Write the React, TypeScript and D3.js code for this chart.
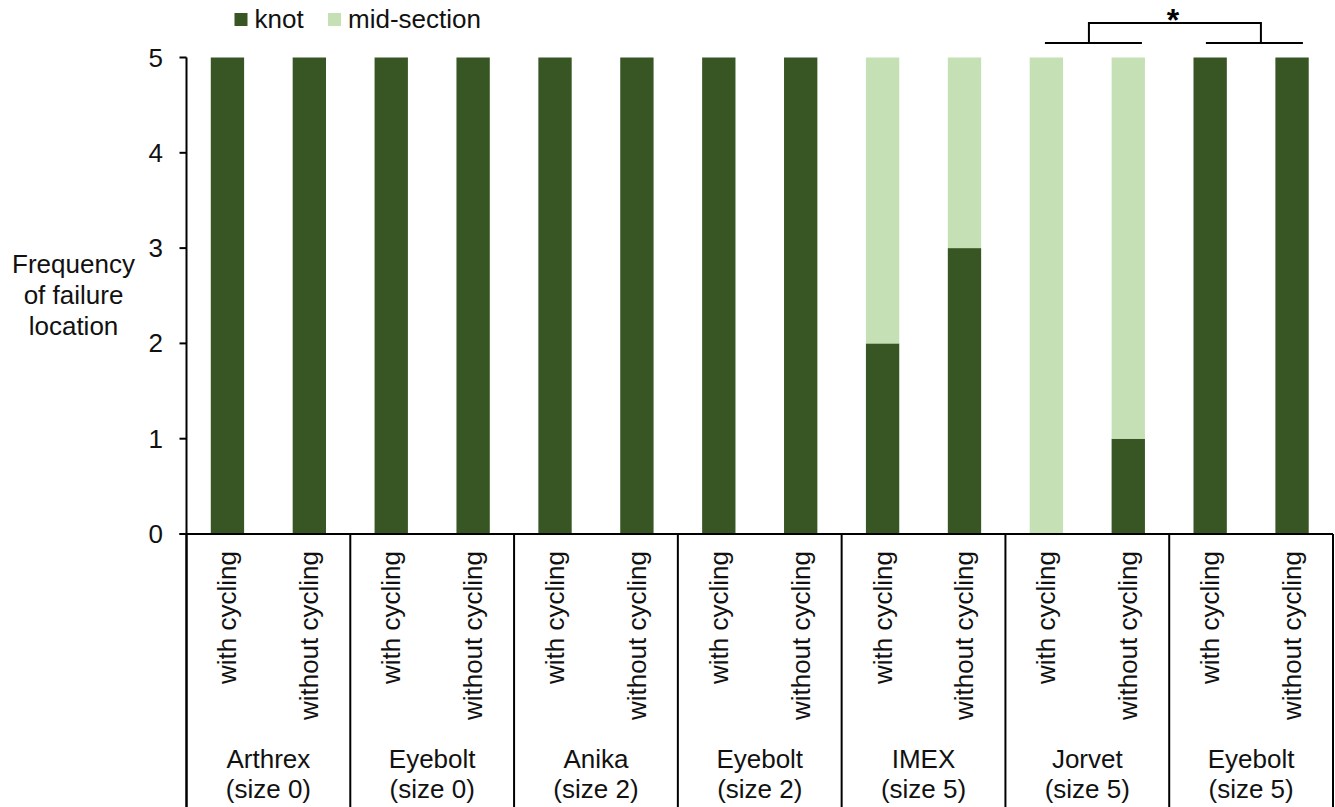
import React from "react";
import * as d3 from "d3";

const groupNames = ["Arthrex", "Eyebolt", "Anika", "Eyebolt", "IMEX", "Jorvet", "Eyebolt"];
const groupSizes = ["(size 0)", "(size 0)", "(size 2)", "(size 2)", "(size 5)", "(size 5)", "(size 5)"];
const conditions = ["with cycling", "without cycling"];
const knot = [5, 5, 5, 5, 5, 5, 5, 5, 2, 3, 0, 1, 5, 5];
const midSection = [0, 0, 0, 0, 0, 0, 0, 0, 3, 2, 5, 4, 0, 0];
const seriesNames = ["knot", "mid-section"];
const seriesColors = ["#375623", "#C5E0B4"];
const yTicks = [0, 1, 2, 3, 4, 5];
const yTitle = ["Frequency", "of failure", "location"];

const W = 1335;
const H = 807;
const FONT = "'Liberation Sans', Arial, Helvetica, sans-serif";
const FS = 26;
const TXT = "#111";

export default function App() {
  const left = 186.5;
  const right = 1333;
  const y0 = 534;
  const y5 = 57.5;

  const barIds = knot.map((_, i) => String(i));
  const x = d3.scaleBand<string>().domain(barIds).range([left, right]).padding(0);
  const step = x.step();
  const barW = step * 0.407;
  const y = d3.scaleLinear().domain([0, 5]).range([y0, y5]);

  const rows = knot.map((k, i) => ({ id: String(i), knot: k, mid: midSection[i] }));
  const stack = d3.stack<any>().keys(["knot", "mid"]);
  const layers = stack(rows);

  const groupStart = (g: number) => x(String(g * 2)) as number;
  const groupCenter = (g: number) => groupStart(g) + step;

  // significance bracket between group 5 and 6
  const gL = groupCenter(5);
  const gR = groupCenter(6);
  const vL = gL + 1.6;
  const vR = gR + 9.8;
  const yTop = 23;
  const yLow = 43;

  return (
    <svg
      width={W}
      height={H}
      style={{ position: "absolute", left: 0, top: 0, background: "#fff" }}
      fontFamily={FONT}
    >
      {/* bars */}
      {layers.map((layer, li) => (
        <g key={li} fill={seriesColors[li]}>
          {layer.map((d, i) =>
            d[1] - d[0] > 0 ? (
              <rect
                key={i}
                x={(x(String(i)) as number) + (step - barW) / 2}
                y={y(d[1])}
                width={barW}
                height={y(d[0]) - y(d[1])}
              />
            ) : null
          )}
        </g>
      ))}

      {/* y axis */}
      <line x1={left} x2={left} y1={y5} y2={H} stroke="#000" strokeWidth={2} />
      {yTicks.map((t) => (
        <g key={t}>
          <line x1={left - 7} x2={left} y1={y(t)} y2={y(t)} stroke="#000" strokeWidth={2} />
          <text
            x={163}
            y={y(t)}
            textAnchor="end"
            dominantBaseline="central"
            fontSize={FS}
            fill={TXT}
          >
            {t}
          </text>
        </g>
      ))}

      {/* x axis */}
      <line x1={left - 7} x2={right} y1={y0} y2={y0} stroke="#000" strokeWidth={2} />
      {groupNames.map((_, g) => (
        <line
          key={g}
          x1={groupStart(g)}
          x2={groupStart(g)}
          y1={y0}
          y2={H}
          stroke="#000"
          strokeWidth={2}
        />
      ))}
      <line x1={right} x2={right} y1={y0} y2={H} stroke="#000" strokeWidth={2} />

      {/* rotated condition labels */}
      {barIds.map((id, i) => {
        const cx = (x(id) as number) + step / 2;
        const ty = 551;
        return (
          <text
            key={id}
            x={cx}
            y={ty}
            transform={`rotate(-90, ${cx}, ${ty})`}
            textAnchor="end"
            dominantBaseline="central"
            fontSize={FS}
            fill={TXT}
          >
            {conditions[i % 2]}
          </text>
        );
      })}

      {/* group labels */}
      {groupNames.map((name, g) => (
        <g key={g}>
          <text x={groupCenter(g)} y={768} textAnchor="middle" fontSize={FS} fill={TXT}>
            {name}
          </text>
          <text x={groupCenter(g)} y={798} textAnchor="middle" fontSize={FS} fill={TXT}>
            {groupSizes[g]}
          </text>
        </g>
      ))}

      {/* y title */}
      {yTitle.map((t, i) => (
        <text key={i} x={73.5} y={273 + i * 31} textAnchor="middle" fontSize={FS} fill={TXT}>
          {t}
        </text>
      ))}

      {/* legend */}
      <rect x={234.5} y={13} width={13} height={13} fill={seriesColors[0]} />
      <text x={254.5} y={27.5} fontSize={FS} fill={TXT}>
        {seriesNames[0]}
      </text>
      <rect x={328} y={13} width={13} height={13} fill={seriesColors[1]} />
      <text x={348} y={27.5} fontSize={FS} fill={TXT}>
        {seriesNames[1]}
      </text>

      {/* significance bracket */}
      <g stroke="#000" strokeWidth={2} fill="none">
        <line x1={gL - 42.4} x2={gL + 54.6} y1={yLow} y2={yLow} />
        <line x1={gR - 45.2} x2={gR + 51.8} y1={yLow} y2={yLow} />
        <polyline points={`${vL},${yLow} ${vL},${yTop} ${vR},${yTop} ${vR},${yLow}`} />
      </g>
      <text
        x={(vL + vR) / 2 - 2}
        y={31}
        textAnchor="middle"
        fontSize={32}
        fontWeight="bold"
        fill="#000"
      >
        *
      </text>
    </svg>
  );
}
